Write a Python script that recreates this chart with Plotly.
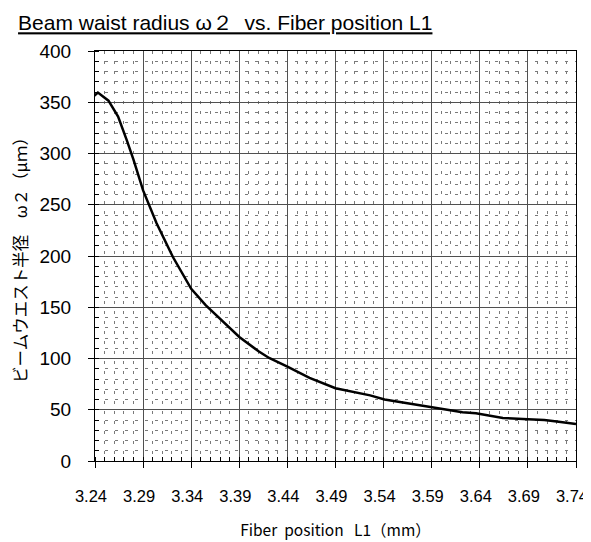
import plotly.graph_objects as go

# Data
fiber_L1 = [3.233, 3.243, 3.254, 3.264, 3.273, 3.280, 3.290, 3.297, 3.304, 3.321,
            3.335, 3.340, 3.355, 3.370, 3.390, 3.410, 3.421, 3.440, 3.463, 3.490,
            3.526, 3.541, 3.566, 3.590, 3.622, 3.636, 3.664, 3.690, 3.707, 3.720, 3.740]
waist_w2 = [351, 359.5, 351.5, 336, 313, 294, 264, 248, 232, 199,
            176, 168, 152, 139, 121, 107, 100.5, 92, 81, 71,
            64, 60, 56, 52, 47.5, 46.5, 42, 40.7, 40, 38.5, 36]

x_ticks = [3.24, 3.29, 3.34, 3.39, 3.44, 3.49, 3.54, 3.59, 3.64, 3.69, 3.74]
y_ticks = [0, 50, 100, 150, 200, 250, 300, 350, 400]

title_text = "Beam waist radius ω２\u00a0\u00a0vs. Fiber position L1"
x_title = "Fiber\u00a0\u00a0position\u00a0\u00a0\u00a0L1（mm）"
y_title = "ビームウエスト半径　ω２（μｍ）"

fig = go.Figure()
fig.add_trace(go.Scatter(x=fiber_L1, y=waist_w2, mode="lines",
                         line=dict(color="black", width=2.5),
                         showlegend=False))

axis_common = dict(
    showline=True, linecolor="black", linewidth=1, mirror=True,
    showgrid=True, gridcolor="#505050", gridwidth=1,
    ticks="outside", ticklen=6, tickcolor="black",
    zeroline=False, automargin=False, ticklabeloverflow="allow",
)

fig.update_xaxes(
    range=[3.24, 3.74], tickvals=x_ticks, ticktext=[f"{v:.2f}" for v in x_ticks],
    tickfont=dict(family="Liberation Sans, Arial", size=16.5, color="black"),
    minor=dict(dtick=0.01, tick0=3.24, showgrid=True, gridcolor="#7a7a7a",
               griddash="3px,7px", gridwidth=1, ticks="inside", ticklen=4,
               tickcolor="black"),
    title=dict(text=x_title, font=dict(family="Noto Sans CJK JP", size=15.5, color="black"),
               standoff=21),
    ticklabelstandoff=14, ticklabelshift=-4,
    **axis_common,
)
fig.update_yaxes(
    range=[0, 400], tickvals=y_ticks,
    tickfont=dict(family="Liberation Sans, Arial", size=19, color="black"),
    minor=dict(dtick=10, tick0=0, showgrid=True, gridcolor="#7a7a7a",
               griddash="3px,7px", gridwidth=1, ticks="inside", ticklen=4,
               tickcolor="black"),
    title=dict(text=y_title, font=dict(family="Noto Sans CJK JP", size=16.5, color="black"),
               standoff=7),
    ticklabelstandoff=13,
    **axis_common,
)

fig.update_layout(
    width=591, height=542,
    margin=dict(l=87, r=23, t=43, b=89),
    paper_bgcolor="white", plot_bgcolor="white",
    title=dict(text=f"<span style='text-decoration:underline'>{title_text}</span>",
               x=0.017, xanchor="left", y=0.986, yanchor="top",
               pad=dict(l=0, r=0, t=0, b=0),
               font=dict(family="Liberation Sans, Arial", size=21, color="black")),
)

fig.write_html("out.html")
